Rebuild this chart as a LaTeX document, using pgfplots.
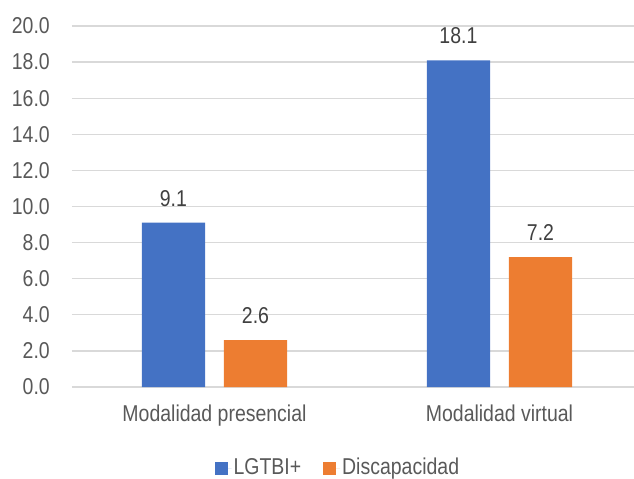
\documentclass[border=0pt]{standalone}
\usepackage{pgfplots}
\pgfplotsset{compat=1.18}
\usepackage{fontspec}
\setmainfont[FakeStretch=0.85]{Liberation Sans}
\definecolor{serA}{HTML}{4472C4}
\definecolor{serB}{HTML}{ED7D31}
\definecolor{gridc}{HTML}{D9D9D9}
\definecolor{txt}{HTML}{595959}
\definecolor{lbl}{HTML}{404040}
\begin{document}
\fontsize{23}{27}\selectfont
\begin{tikzpicture}
\begin{axis}[
    scale only axis,
    width=562bp, height=361bp,
    ybar, bar width=0.222,
    xmin=-0.5, xmax=1.472,
    ymin=0, ymax=20,
    ytick distance=2,
    xtick={0,1},
    xticklabels={Modalidad presencial, Modalidad virtual},
    major tick length=0pt,
    axis line style={draw=none},
    ymajorgrids,
    major grid style={gridc, line width=1.2bp},
    /pgf/number format/assume math mode=true,
    yticklabel={\pgfmathprintnumber[fixed, fixed zerofill, precision=1]{\tick}},
    yticklabel style={inner sep=0pt, xshift=-22bp, text=txt, font=\fontsize{23}{27}\selectfont},
    xticklabel style={inner sep=0pt, yshift=-18bp, text=txt, font=\fontsize{23}{27}\selectfont},
    nodes near coords,
    nodes near coords style={anchor=south, inner sep=0pt, yshift=16bp, text=lbl,
        font=\fontsize{23}{27}\selectfont,
        /pgf/number format/.cd, fixed, fixed zerofill, precision=1, assume math mode=true},
    legend columns=2,
    legend style={at={(0.473,-0.225)}, anchor=center, draw=none, fill=none,
        font=\fontsize{23}{27}\selectfont, text=txt,
        /tikz/every even column/.append style={column sep=20bp}},
    legend image code/.code={\fill[#1] (0bp,-6.5bp) rectangle (13bp,6.5bp); \path (13bp,0) -- (17bp,0);},
    clip=false,
]
\addplot[bar shift=-0.144, fill=serA, draw=none]
    coordinates {(0,9.1) (1,18.1)};
\addlegendentry{LGTBI+}
\addplot[bar shift=0.144, fill=serB, draw=none]
    coordinates {(0,2.6) (1,7.2)};
\addlegendentry{Discapacidad}
\coordinate (sw) at (rel axis cs:0,0);
\end{axis}
\pgfresetboundingbox
\path ([shift={(-72bp,-92bp)}]sw) rectangle ([shift={(562bp,387bp)}]sw);
\end{tikzpicture}
\end{document}
